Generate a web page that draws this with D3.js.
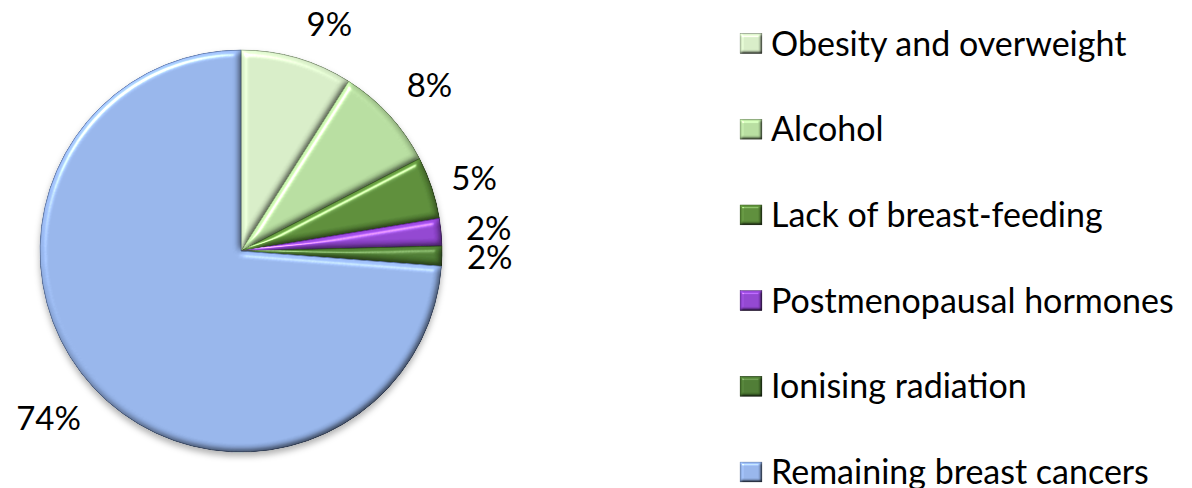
<!DOCTYPE html>
<html>
<head>
<meta charset="utf-8">
<script src="https://cdn.jsdelivr.net/npm/d3@7"></script>
<style>
  html, body { margin: 0; padding: 0; background: #fff; }
  svg { display: block; }
  text { font-family: Lato, "Open Sans", sans-serif; fill: #000; }
</style>
</head>
<body>
<svg id="chart" width="1192" height="488"></svg>
<script>
// ---- data ----
const categories = [
  "Obesity and overweight",
  "Alcohol",
  "Lack of breast-feeding",
  "Postmenopausal hormones",
  "Ionising radiation",
  "Remaining breast cancers"
];
const values = [9.0, 8.4, 5.0, 2.2, 1.6, 73.8];
const valueLabels = ["9%", "8%", "5%", "2%", "2%", "74%"];

// ---- styles ----
const colors = ["#d3e8c3", "#b3d99c", "#5a8a38", "#8e43cc", "#4b7831", "#93b1e6"];
const strokeColors = ["#8ea282", "#7b9a68", "#3a5d23", "#5c2a8a", "#2e4b1d", "#5f78a6"];

const svg = d3.select("#chart");
const cx = 241, cy = 251, R = 201;

// ---- filters (bevel + shadow) ----
const defs = svg.append("defs");
function bevel(id, blur, scale, spec) {
  const f = defs.append("filter").attr("id", id)
    .attr("x", "-10%").attr("y", "-10%").attr("width", "120%").attr("height", "120%")
    .attr("color-interpolation-filters", "sRGB");
  f.append("feGaussianBlur").attr("in", "SourceAlpha").attr("stdDeviation", blur).attr("result", "blur");
  const d = f.append("feDiffuseLighting").attr("in", "blur").attr("surfaceScale", scale)
    .attr("diffuseConstant", 1).attr("lighting-color", "#fff").attr("result", "diff");
  d.append("feDistantLight").attr("azimuth", 235).attr("elevation", 60);
  f.append("feComposite").attr("in", "SourceGraphic").attr("in2", "diff")
    .attr("operator", "arithmetic").attr("k1", 1.155).attr("k2", 0).attr("k3", 0).attr("k4", 0)
    .attr("result", "shaded");
  const s = f.append("feSpecularLighting").attr("in", "blur").attr("surfaceScale", scale)
    .attr("specularConstant", spec).attr("specularExponent", 90)
    .attr("lighting-color", "#fff").attr("result", "spec");
  s.append("feDistantLight").attr("azimuth", 235).attr("elevation", 60);
  f.append("feComposite").attr("in", "spec").attr("in2", "SourceAlpha").attr("operator", "in").attr("result", "specIn");
  f.append("feComposite").attr("in", "shaded").attr("in2", "specIn")
    .attr("operator", "arithmetic").attr("k1", 0).attr("k2", 1).attr("k3", 1).attr("k4", 0).attr("result", "lit");
  f.append("feComposite").attr("in", "lit").attr("in2", "SourceAlpha").attr("operator", "in");
}
bevel("bevel", 3, 3, 0.55);
bevel("bevelSmall", 1.5, 2.5, 0.5);

const sh = defs.append("filter").attr("id", "shadow")
  .attr("x", "-10%").attr("y", "-10%").attr("width", "120%").attr("height", "125%");
sh.append("feDropShadow").attr("dx", 0).attr("dy", 4).attr("stdDeviation", 3)
  .attr("flood-color", "#000").attr("flood-opacity", 0.3);

// ---- pie ----
const pie = d3.pie().sort(null).value(d => d)(values);
const arc = d3.arc().innerRadius(0).outerRadius(R);

const gShadow = svg.append("g").attr("filter", "url(#shadow)");
const g = gShadow.append("g").attr("transform", `translate(${cx},${cy})`);

g.selectAll("path.slice")
  .data(pie)
  .join("path")
  .attr("class", "slice")
  .attr("d", arc)
  .attr("fill", (d, i) => colors[i])
  .attr("stroke", (d, i) => strokeColors[i])
  .attr("stroke-width", 1)
  .attr("filter", "url(#bevel)");

// ---- value labels (outside end) ----
const labelFont = 33;
const labelR = 226;
const labelNudge = [[19, 5], [5, -3], [-3, 3], [0, 0], [0, 0], [-3, 3]];
const lg = svg.append("g");
pie.forEach((d, i) => {
  const t = lg.append("text")
    .attr("font-size", labelFont)
    .attr("text-anchor", "middle")
    .text(valueLabels[i]);
  const w = t.node().getComputedTextLength();
  const h = 30;
  const mid = (d.startAngle + d.endAngle) / 2;
  const sx = Math.sin(mid), sy = -Math.cos(mid);
  const x = cx + sx * labelR + sx * w / 2 + labelNudge[i][0];
  const y = cy + sy * labelR + sy * h / 2 + labelNudge[i][1];
  t.attr("x", x).attr("y", y + labelFont * 0.36);
});

// ---- legend ----
const legendX = 740, legendY0 = 43.5, legendStep = 85.7;
const leg = svg.append("g");
categories.forEach((c, i) => {
  const y = legendY0 + i * legendStep;
  leg.append("rect")
    .attr("x", legendX).attr("y", y - 10)
    .attr("width", 22).attr("height", 20)
    .attr("fill", colors[i])
    .attr("stroke", strokeColors[i]).attr("stroke-width", 0.6)
    .attr("filter", "url(#bevelSmall)");
  leg.append("text")
    .attr("x", legendX + 31)
    .attr("y", y + 12)
    .attr("font-size", 34)
    .text(c);
});
</script>
</body>
</html>
